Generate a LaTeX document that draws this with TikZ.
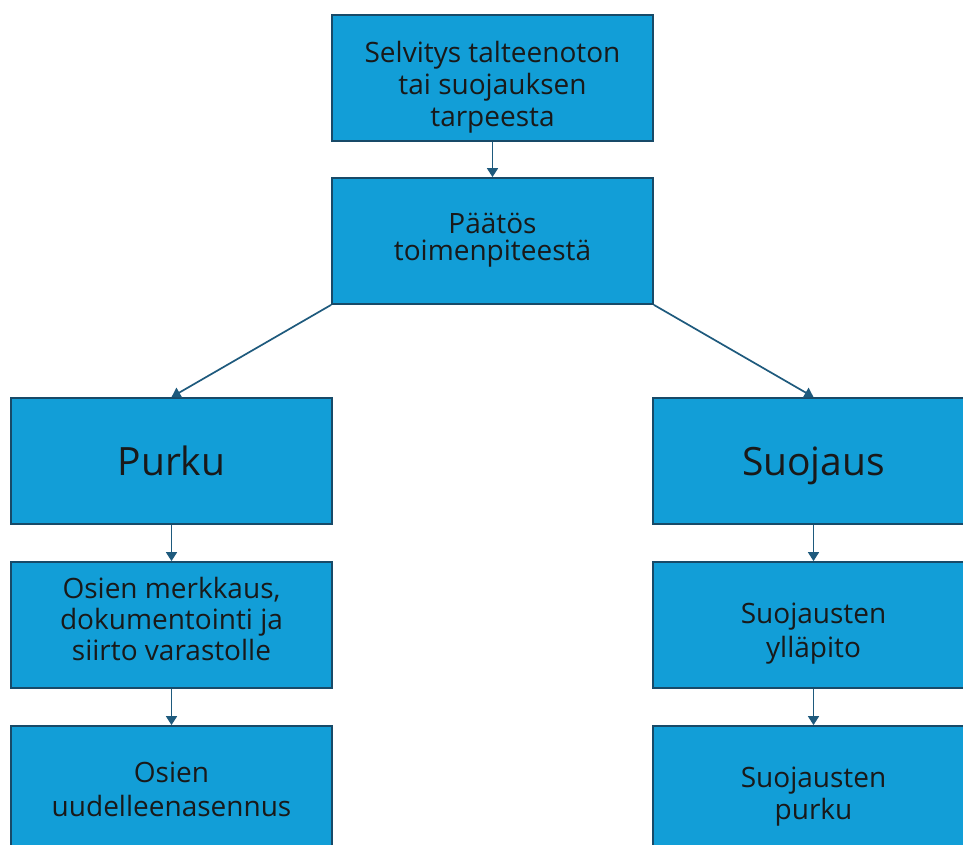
\documentclass[tikz,border=0pt]{standalone}
\usepackage{fontspec}
\setmainfont{Open Sans}
\usetikzlibrary{arrows.meta}
\definecolor{boxfill}{RGB}{18,158,215}
\definecolor{boxline}{RGB}{24,74,104}
\definecolor{arrowc}{RGB}{30,90,125}
\newcommand\boxtext[3]{\raisebox{#1}[0pt][0pt]{\parbox[c]{315pt}{\centering\fontsize{28}{#2}\selectfont #3}}}
\tikzset{
  box/.style={draw=boxline, line width=1.8pt, fill=boxfill, minimum width=321pt, minimum height=126pt, inner sep=0pt, align=center, text=black!90, font=\fontsize{28}{33}\selectfont},
  big/.style={font=\fontsize{39}{44}\selectfont, text height=29pt, text depth=0pt},
  conn/.style={draw=arrowc, line width=1.7pt, -{Triangle[length=9pt,width=11pt]}}
}
\begin{document}
\begin{tikzpicture}[x=1pt,y=-1pt]
\useasboundingbox (0,0) rectangle (963,845);
\fill[white] (0,0) rectangle (963,845);
\clip (0,0) rectangle (963,845);
\node[box] (a) at (492.5,78) {\boxtext{-15.5pt}{32}{Selvitys talteenoton\\tai suojauksen\\tarpeesta}};
\node[box] (b) at (492.5,241) {\boxtext{-5.5pt}{26.5}{Päätös\\toimenpiteestä}};
\node[box, big] (c) at (171.5,461) {Purku};
\node[box, big] (d) at (813.5,461) {Suojaus};
\node[box] (e) at (171.5,625) {\boxtext{-0.5pt}{31}{Osien merkkaus,\\dokumentointi ja\\siirto varastolle}};
\node[box] (f) at (813.5,625) {\boxtext{-14.5pt}{34}{Suojausten\\ylläpito}};
\node[box] (g) at (171.5,789) {\boxtext{-6.5pt}{34}{Osien\\uudelleenasennus}};
\node[box] (h) at (813.5,789) {\boxtext{-13.5pt}{32}{Suojausten\\purku}};
\draw[conn] (a.south) -- (b.north);
\draw[conn] (b.south west) -- (c.north);
\draw[conn] (b.south east) -- (d.north);
\draw[conn] (c.south) -- (e.north);
\draw[conn] (d.south) -- (f.north);
\draw[conn] (e.south) -- (g.north);
\draw[conn] (f.south) -- (h.north);
\end{tikzpicture}
\end{document}
